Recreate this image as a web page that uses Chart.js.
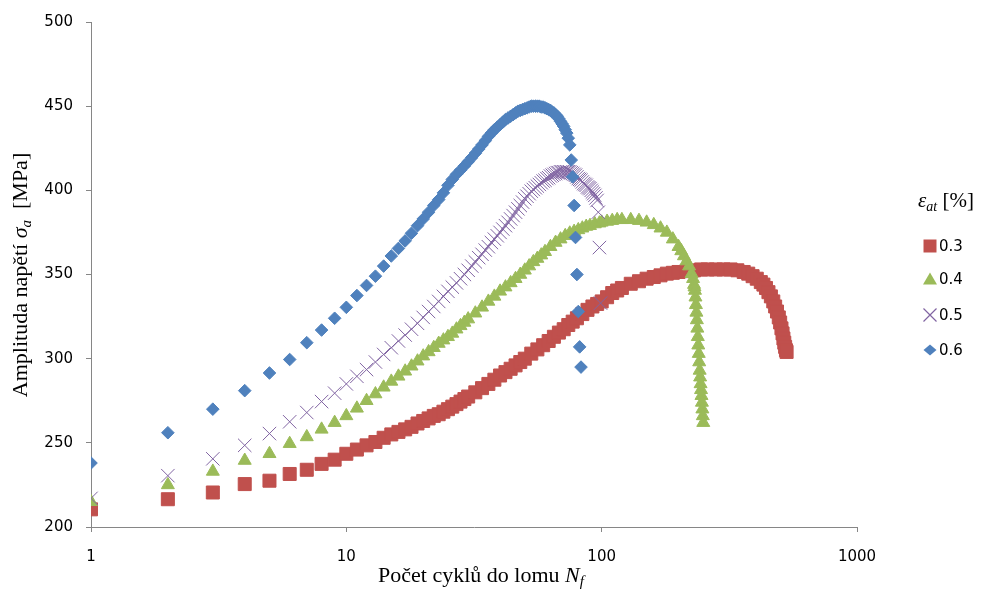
<!DOCTYPE html>
<html>
<head>
<meta charset="utf-8">
<script src="https://cdn.jsdelivr.net/npm/chart.js@4.4.1/dist/chart.umd.min.js"></script>
<style>
  body { margin: 0; background: #fff; }
</style>
</head>
<body>
<canvas id="myChart" width="985" height="589"></canvas>
<script>
// amplitude of stress vs. cycle number, one list per strain amplitude
var strainLabels = ['0.3', '0.4', '0.5', '0.6'];
var xTicks = [1, 10, 100, 1000];

var nf03 = [1,2,3,4,5,6,7,8,9,10,11,12,13,14,15,16,17,18,19,20,21,22,23,24,25,26,27,28,29,30,
  32,34,36,38,40,42,44,46,48,50,53,56,59,62,65,68,71,74,77,80,84,88,92,96,100,
  105,110,115,120,130,140,150,160,170,180,190,200,
  215,230,245,260,280,300,320,340,360,375,390,405,420,430,440,450,460,470,478,486,494,500,506,511,515,519,523,527,530];
var sa03 = [210.5,216.5,220.5,225.5,227.5,231.5,234,237.5,240,243.5,246,248.5,250.5,253,255,256.5,258,259.5,261.5,263,264.5,266,267,268.5,270,271.5,273,274.5,276,277.5,
  280,282.5,285,287.5,290,292,294,296,298,300,303,305.5,308,310.5,313,315.5,317.5,320,322,324,326.5,329,331,332.5,334,
  336.5,339,340.5,342,344.5,346,347.5,348.5,349.5,350.5,351,351.5,
  352,352.5,353,353,353,353,353,352.5,351.5,350.5,349,347.5,345.5,344,342,339.5,337,334,331,328,324.5,321.5,318,315,312,309.5,307,305,304];

var nf04 = [1,2,3,4,5,6,7,8,9,10,11,12,13,14,15,16,17,18,19,20,21,22,23,24,25,26,27,28,29,30,
  32,34,36,38,40,42,44,46,48,50,52,54,56,58,60,63,66,69,72,75,78,81,84,87,90,94,98,
  100,105,110,115,120,130,140,150,160,170,180,190,200,205,210,215,220,225,228,
  230,231,232,233,234,235,236,237,238,239,240,241,242,243,244,245,246,247,248,249,250];
var sa04 = [215,225,233,239.5,243.5,249.5,253.5,258,262,266,270.5,275,279,283,286.5,289.5,292.5,295.5,298.5,301.5,304,306.5,309,311,313,315,317.5,319.5,321.5,323.5,
  327,330.5,334,337,340,342.5,345,347.5,350,352.5,355,357.5,359.5,361.5,363.5,366.5,369,371,373,374.5,375.5,376.5,377.5,378.5,379,380,380.5,
  381,381.5,382,382.5,382.5,382.5,382,381,379.5,377.5,375,371,366.5,364,361,358,355,350.5,347.5,
  344,342.5,340.5,336.5,332,327.5,323,318,313,308,303,298,293,289,285,281.5,278,274,270,266,262];

var nf05 = [1,2,3,4,5,6,7,8,9,10,11,12,13,14,15,16,17,18,19,20,21,22,23,24,25,26,27,28,29,30,
  31,32,33,34,35,36,37,38,39,40,41,42,43,44,45,46,47,48,49,50,51,52,53,54,55,56,57,58,59,60,
  61,62,63,64,65,66,67,68,69,70,71,72,73,74,75,76,77,78,79,80,81,82,83,84,85,86,87,88,89,90,
  91,92,93,94,95,96,97,98,99];
var sa05 = [217,230.5,240.5,248.5,255.5,262.5,268,274.5,279.5,285,289.5,293.5,298,302.5,306.5,310.5,314,317.5,321,324.5,328,331,334,337,340,342.5,345,347.5,350,352.5,
  355,357.5,360,362,364.5,366.5,369,371,373,375,377,379,381,383,385,387,389,391,393,395,396.5,398,399.5,400.5,401.5,402.5,403.5,404.5,405.5,406,
  407,407.5,408.5,409,409.5,410,410.5,410.5,411,411,411,411,411,411,411,410.5,410,409.5,409,408,407,406.5,406,405,404,403.5,403,402,401.5,401,
  400,399,398,397,395.5,394,387,366,333];

var nf06 = [1,2,3,4,5,6,7,8,9,10,11,12,13,14,15,16,17,18,19,20,21,22,23,24,25,26,27,28,29,30,
  31,32,33,34,35,36,37,38,39,40,41,42,43,44,45,46,47,48,49,50,51,52,53,54,55,56,57,58,59,60,
  61,62,63,64,65,66,67,68,69,70,71,72,73,74,75,76,77,78,79,80,81,82,83];
var sa06 = [238,256,270,281,291.5,299.5,309.5,317,324,330.5,337.5,343.5,349,355,361,365.5,370,374.5,379,383,387,391,394.5,398.5,403,406.5,409.5,412,414.5,417,
  419.5,422,424.5,427,429.5,432,434,436,437.5,439,440.5,442,443,444,445,446,447,447.5,448,448.5,449,449.5,450,450,450,450,450,449.5,449.5,449,
  448.5,448,447.5,446.5,446,445,444,442.5,441,439.5,438,436,434,431,427,418,408,391,372,350,328,307,295];

var colors = ['#C0504D', '#9BBB59', '#8064A2', '#4F81BD'];

function pts(n, s) {
  return n.map(function (v, i) { return { x: v, y: s[i] }; });
}

// axis titles and legend, drawn with rich text (italic symbols, subscripts)
function drawRich(ctx, parts, x, y, center) {
  var w = 0;
  parts.forEach(function (p) { ctx.font = p[1]; w += ctx.measureText(p[0]).width; });
  var cx = center ? x - w / 2 : x;
  parts.forEach(function (p) {
    ctx.font = p[1];
    ctx.fillText(p[0], cx, y + (p[2] || 0));
    cx += ctx.measureText(p[0]).width;
  });
}

function marker(ctx, style, x, y, col) {
  ctx.fillStyle = col; ctx.strokeStyle = col; ctx.lineWidth = 1.2;
  ctx.beginPath();
  if (style === 'rect') {
    ctx.rect(x - 6.5, y - 6.5, 13, 13); ctx.fill();
  } else if (style === 'triangle') {
    ctx.moveTo(x, y - 6.5); ctx.lineTo(x + 7, y + 5.5); ctx.lineTo(x - 7, y + 5.5); ctx.closePath(); ctx.fill();
  } else if (style === 'crossRot') {
    ctx.moveTo(x - 6.5, y - 6.5); ctx.lineTo(x + 6.5, y + 6.5);
    ctx.moveTo(x + 6.5, y - 6.5); ctx.lineTo(x - 6.5, y + 6.5); ctx.stroke();
  } else {
    ctx.moveTo(x, y - 5.5); ctx.lineTo(x + 6.5, y); ctx.lineTo(x, y + 5.5); ctx.lineTo(x - 6.5, y); ctx.closePath(); ctx.fill();
  }
}

var styles = ['rect', 'triangle', 'crossRot', 'rectRot'];

var textPlugin = {
  id: 'textPlugin',
  afterDraw: function (chart) {
    var ctx = chart.ctx;
    ctx.save();
    ctx.fillStyle = '#000';
    ctx.textBaseline = 'alphabetic';
    ctx.textAlign = 'left';
    var serif = '22px "Liberation Serif"';
    var serifI = 'italic 22px "Liberation Serif"';
    var subI = 'italic 15px "Liberation Serif"';
    drawRich(ctx, [['Počet cyklů do lomu ', serif], ['N', serifI], ['f', subI, 4]], 481, 582, true);

    ctx.translate(27, 275);
    ctx.rotate(-Math.PI / 2);
    drawRich(ctx, [['Amplituda napětí ', serif], ['σ', serifI], ['a', subI, 4], ['  [MPa]', serif]], 0, 0, true);
    ctx.restore();

    ctx.save();
    ctx.fillStyle = '#000';
    drawRich(ctx, [['ε', 'italic 21px "Liberation Serif"'], ['at', 'italic 14px "Liberation Serif"', 4], [' [%]', '21px "Liberation Serif"']], 918, 207, false);
    var ys = [246, 279, 315, 350];
    strainLabels.forEach(function (lab, i) {
      marker(ctx, styles[i], 930, ys[i], colors[i]);
      ctx.fillStyle = '#000';
      ctx.font = '15px "DejaVu Sans"';
      ctx.textBaseline = 'middle';
      ctx.fillText(lab, 939, ys[i] + 1);
    });
    ctx.restore();
  }
};

var tickFont = { family: 'DejaVu Sans', size: 15 };

var config = {
  type: 'scatter',
  data: {
    datasets: [
      { label: strainLabels[0], data: pts(nf03, sa03), pointStyle: 'rect', pointRadius: 9.2, borderWidth: 1,
        backgroundColor: colors[0], borderColor: colors[0], order: 4 },
      { label: strainLabels[1], data: pts(nf04, sa04), pointStyle: 'triangle', pointRadius: 7.5, borderWidth: 1,
        backgroundColor: colors[1], borderColor: colors[1], order: 3 },
      { label: strainLabels[2], data: pts(nf05, sa05), pointStyle: 'crossRot', pointRadius: 9.5, borderWidth: 1,
        backgroundColor: colors[2], borderColor: colors[2], order: 2 },
      { label: strainLabels[3], data: pts(nf06, sa06), pointStyle: 'rectRot', pointRadius: 6.3, borderWidth: 1,
        backgroundColor: colors[3], borderColor: colors[3], order: 1 }
    ]
  },
  options: {
    responsive: false,
    animation: false,
    layout: { padding: { top: 21, right: 128, left: 0, bottom: 0 } },
    plugins: { legend: { display: false }, tooltip: { enabled: false } },
    scales: {
      x: {
        type: 'logarithmic', min: 1, max: 1000,
        afterBuildTicks: function (s) { s.ticks = xTicks.map(function (v) { return { value: v }; }); },
        afterFit: function (s) { s.height = 62; },
        ticks: { font: tickFont, color: '#000', padding: 16, maxRotation: 0, autoSkip: false,
          callback: function (v) { return String(v); } },
        grid: { drawOnChartArea: false, drawTicks: true, tickLength: 5, color: '#868686' },
        border: { color: '#868686', width: 1 }
      },
      y: {
        min: 200, max: 500,
        afterFit: function (s) { s.width = 91; },
        ticks: { stepSize: 50, font: tickFont, color: '#000', padding: 13 },
        grid: { drawOnChartArea: false, drawTicks: true, tickLength: 5, color: '#868686' },
        border: { color: '#868686', width: 1 }
      }
    }
  },
  plugins: [textPlugin]
};

var myChart = new Chart(document.getElementById('myChart'), config);
</script>
</body>
</html>
